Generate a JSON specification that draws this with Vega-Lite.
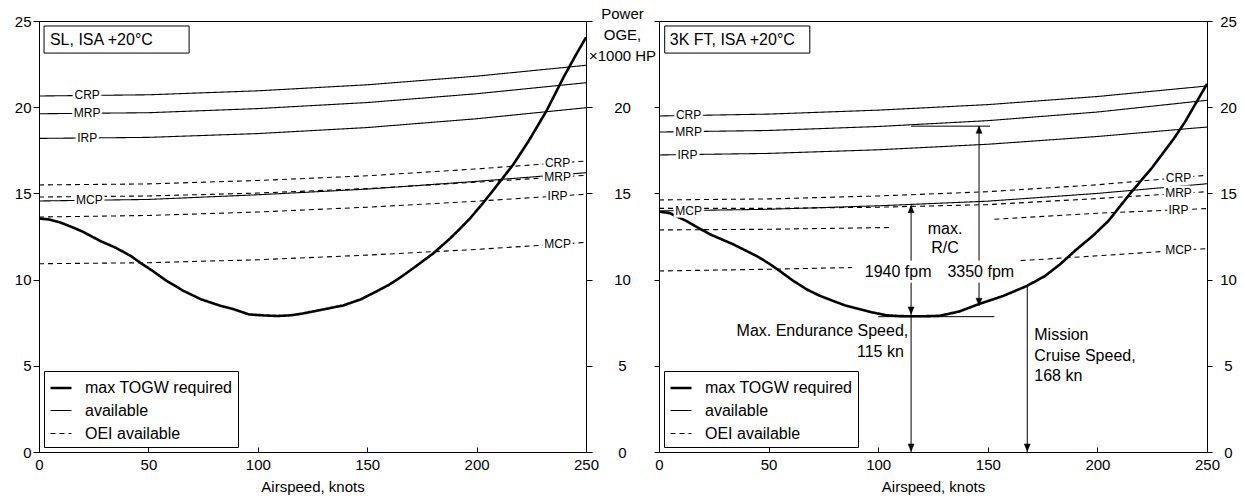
{
  "$schema": "https://vega.github.io/schema/vega-lite/v6.json",
  "padding": {"left": 13, "top": 5, "right": 5, "bottom": 5},
  "bounds": "flush",
  "spacing": 73,
  "config": {
    "font": "Liberation Sans",
    "view": {"stroke": "black", "strokeWidth": 1},
    "axis": {"domainColor": "black", "tickColor": "black", "labelColor": "black", "titleColor": "black", "labelFont": "Liberation Sans", "titleFont": "Liberation Sans", "labelFontSize": 15, "titleFontSize": 15, "titleFontWeight": "normal", "grid": false, "labelFlush": false, "labelOverlap": false},
    "legend": {"orient": "bottom-left", "offset": 5, "strokeColor": "black", "fillColor": "white", "padding": 5, "labelFont": "Liberation Sans", "labelFontSize": 16, "labelColor": "black", "labelOffset": 12, "rowPadding": 3, "symbolType": "stroke", "symbolStrokeColor": "black", "symbolSize": 441, "cornerRadius": 0, "labelLimit": 300},
    "text": {"font": "Liberation Sans", "color": "black"}
  },
  "datasets": {
    "curves": [
      {"panel":"L","name":"L-req","type":"max TOGW required","v":0,"P":13.55},
      {"panel":"L","name":"L-req","type":"max TOGW required","v":5,"P":13.48},
      {"panel":"L","name":"L-req","type":"max TOGW required","v":10,"P":13.3},
      {"panel":"L","name":"L-req","type":"max TOGW required","v":15,"P":13.05},
      {"panel":"L","name":"L-req","type":"max TOGW required","v":20,"P":12.78},
      {"panel":"L","name":"L-req","type":"max TOGW required","v":28,"P":12.24},
      {"panel":"L","name":"L-req","type":"max TOGW required","v":35,"P":11.85},
      {"panel":"L","name":"L-req","type":"max TOGW required","v":42,"P":11.37},
      {"panel":"L","name":"L-req","type":"max TOGW required","v":46,"P":11.0},
      {"panel":"L","name":"L-req","type":"max TOGW required","v":52,"P":10.5},
      {"panel":"L","name":"L-req","type":"max TOGW required","v":58,"P":9.95},
      {"panel":"L","name":"L-req","type":"max TOGW required","v":66,"P":9.35},
      {"panel":"L","name":"L-req","type":"max TOGW required","v":74,"P":8.86},
      {"panel":"L","name":"L-req","type":"max TOGW required","v":82,"P":8.52},
      {"panel":"L","name":"L-req","type":"max TOGW required","v":89,"P":8.28},
      {"panel":"L","name":"L-req","type":"max TOGW required","v":96,"P":7.98},
      {"panel":"L","name":"L-req","type":"max TOGW required","v":103,"P":7.92},
      {"panel":"L","name":"L-req","type":"max TOGW required","v":109,"P":7.89},
      {"panel":"L","name":"L-req","type":"max TOGW required","v":115,"P":7.93},
      {"panel":"L","name":"L-req","type":"max TOGW required","v":120,"P":8.02},
      {"panel":"L","name":"L-req","type":"max TOGW required","v":128,"P":8.22},
      {"panel":"L","name":"L-req","type":"max TOGW required","v":139,"P":8.5},
      {"panel":"L","name":"L-req","type":"max TOGW required","v":147,"P":8.85},
      {"panel":"L","name":"L-req","type":"max TOGW required","v":154,"P":9.3},
      {"panel":"L","name":"L-req","type":"max TOGW required","v":160,"P":9.7},
      {"panel":"L","name":"L-req","type":"max TOGW required","v":165,"P":10.11},
      {"panel":"L","name":"L-req","type":"max TOGW required","v":172,"P":10.75},
      {"panel":"L","name":"L-req","type":"max TOGW required","v":180,"P":11.5},
      {"panel":"L","name":"L-req","type":"max TOGW required","v":188,"P":12.4},
      {"panel":"L","name":"L-req","type":"max TOGW required","v":192,"P":12.9},
      {"panel":"L","name":"L-req","type":"max TOGW required","v":197,"P":13.55},
      {"panel":"L","name":"L-req","type":"max TOGW required","v":203,"P":14.45},
      {"panel":"L","name":"L-req","type":"max TOGW required","v":208,"P":15.25},
      {"panel":"L","name":"L-req","type":"max TOGW required","v":212,"P":15.9},
      {"panel":"L","name":"L-req","type":"max TOGW required","v":216.6,"P":16.65},
      {"panel":"L","name":"L-req","type":"max TOGW required","v":223.6,"P":18.0},
      {"panel":"L","name":"L-req","type":"max TOGW required","v":232,"P":19.8},
      {"panel":"L","name":"L-req","type":"max TOGW required","v":240,"P":21.8},
      {"panel":"L","name":"L-req","type":"max TOGW required","v":245,"P":22.95},
      {"panel":"L","name":"L-req","type":"max TOGW required","v":250,"P":24.05},

      {"panel":"L","name":"L-CRP","type":"available","v":0,"P":20.65},
      {"panel":"L","name":"L-CRP","type":"available","v":50,"P":20.72},
      {"panel":"L","name":"L-CRP","type":"available","v":100,"P":20.95},
      {"panel":"L","name":"L-CRP","type":"available","v":150,"P":21.3},
      {"panel":"L","name":"L-CRP","type":"available","v":200,"P":21.8},
      {"panel":"L","name":"L-CRP","type":"available","v":250,"P":22.43},
      {"panel":"L","name":"L-MRP","type":"available","v":0,"P":19.62},
      {"panel":"L","name":"L-MRP","type":"available","v":50,"P":19.68},
      {"panel":"L","name":"L-MRP","type":"available","v":100,"P":19.92},
      {"panel":"L","name":"L-MRP","type":"available","v":150,"P":20.27},
      {"panel":"L","name":"L-MRP","type":"available","v":200,"P":20.78},
      {"panel":"L","name":"L-MRP","type":"available","v":250,"P":21.42},
      {"panel":"L","name":"L-IRP","type":"available","v":0,"P":18.19},
      {"panel":"L","name":"L-IRP","type":"available","v":50,"P":18.25},
      {"panel":"L","name":"L-IRP","type":"available","v":100,"P":18.47},
      {"panel":"L","name":"L-IRP","type":"available","v":150,"P":18.82},
      {"panel":"L","name":"L-IRP","type":"available","v":200,"P":19.33},
      {"panel":"L","name":"L-IRP","type":"available","v":250,"P":19.97},
      {"panel":"L","name":"L-MCP","type":"available","v":0,"P":14.56},
      {"panel":"L","name":"L-MCP","type":"available","v":50,"P":14.65},
      {"panel":"L","name":"L-MCP","type":"available","v":100,"P":14.92},
      {"panel":"L","name":"L-MCP","type":"available","v":150,"P":15.25},
      {"panel":"L","name":"L-MCP","type":"available","v":200,"P":15.7},
      {"panel":"L","name":"L-MCP","type":"available","v":250,"P":16.2},

      {"panel":"L","name":"L-CRPo","type":"OEI available","v":0,"P":15.49},
      {"panel":"L","name":"L-CRPo","type":"OEI available","v":50,"P":15.55},
      {"panel":"L","name":"L-CRPo","type":"OEI available","v":100,"P":15.75},
      {"panel":"L","name":"L-CRPo","type":"OEI available","v":150,"P":16.02},
      {"panel":"L","name":"L-CRPo","type":"OEI available","v":200,"P":16.42},
      {"panel":"L","name":"L-CRPo","type":"OEI available","v":250,"P":16.88},
      {"panel":"L","name":"L-MRPo","type":"OEI available","v":0,"P":14.79},
      {"panel":"L","name":"L-MRPo","type":"OEI available","v":50,"P":14.85},
      {"panel":"L","name":"L-MRPo","type":"OEI available","v":100,"P":15.02},
      {"panel":"L","name":"L-MRPo","type":"OEI available","v":150,"P":15.28},
      {"panel":"L","name":"L-MRPo","type":"OEI available","v":200,"P":15.65},
      {"panel":"L","name":"L-MRPo","type":"OEI available","v":250,"P":16.05},
      {"panel":"L","name":"L-IRPo","type":"OEI available","v":0,"P":13.63},
      {"panel":"L","name":"L-IRPo","type":"OEI available","v":50,"P":13.72},
      {"panel":"L","name":"L-IRPo","type":"OEI available","v":100,"P":13.92},
      {"panel":"L","name":"L-IRPo","type":"OEI available","v":150,"P":14.2},
      {"panel":"L","name":"L-IRPo","type":"OEI available","v":200,"P":14.55},
      {"panel":"L","name":"L-IRPo","type":"OEI available","v":250,"P":14.95},
      {"panel":"L","name":"L-MCPo","type":"OEI available","v":0,"P":10.92},
      {"panel":"L","name":"L-MCPo","type":"OEI available","v":50,"P":10.98},
      {"panel":"L","name":"L-MCPo","type":"OEI available","v":100,"P":11.15},
      {"panel":"L","name":"L-MCPo","type":"OEI available","v":150,"P":11.42},
      {"panel":"L","name":"L-MCPo","type":"OEI available","v":200,"P":11.75},
      {"panel":"L","name":"L-MCPo","type":"OEI available","v":250,"P":12.16},

      {"panel":"R","name":"R-req","type":"max TOGW required","v":0,"P":13.95},
      {"panel":"R","name":"R-req","type":"max TOGW required","v":5,"P":13.85},
      {"panel":"R","name":"R-req","type":"max TOGW required","v":12.5,"P":13.4},
      {"panel":"R","name":"R-req","type":"max TOGW required","v":18,"P":13.0},
      {"panel":"R","name":"R-req","type":"max TOGW required","v":23.2,"P":12.63},
      {"panel":"R","name":"R-req","type":"max TOGW required","v":33.8,"P":12.05},
      {"panel":"R","name":"R-req","type":"max TOGW required","v":44.5,"P":11.37},
      {"panel":"R","name":"R-req","type":"max TOGW required","v":50,"P":10.95},
      {"panel":"R","name":"R-req","type":"max TOGW required","v":55.1,"P":10.5},
      {"panel":"R","name":"R-req","type":"max TOGW required","v":61,"P":9.95},
      {"panel":"R","name":"R-req","type":"max TOGW required","v":67.3,"P":9.44},
      {"panel":"R","name":"R-req","type":"max TOGW required","v":73,"P":9.08},
      {"panel":"R","name":"R-req","type":"max TOGW required","v":79.5,"P":8.76},
      {"panel":"R","name":"R-req","type":"max TOGW required","v":85,"P":8.5},
      {"panel":"R","name":"R-req","type":"max TOGW required","v":91.6,"P":8.28},
      {"panel":"R","name":"R-req","type":"max TOGW required","v":98,"P":8.08},
      {"panel":"R","name":"R-req","type":"max TOGW required","v":103.8,"P":7.93},
      {"panel":"R","name":"R-req","type":"max TOGW required","v":110,"P":7.88},
      {"panel":"R","name":"R-req","type":"max TOGW required","v":120,"P":7.87},
      {"panel":"R","name":"R-req","type":"max TOGW required","v":128,"P":7.9},
      {"panel":"R","name":"R-req","type":"max TOGW required","v":137,"P":8.15},
      {"panel":"R","name":"R-req","type":"max TOGW required","v":145.7,"P":8.57},
      {"panel":"R","name":"R-req","type":"max TOGW required","v":157,"P":9.05},
      {"panel":"R","name":"R-req","type":"max TOGW required","v":167.8,"P":9.63},
      {"panel":"R","name":"R-req","type":"max TOGW required","v":176,"P":10.2},
      {"panel":"R","name":"R-req","type":"max TOGW required","v":183,"P":10.89},
      {"panel":"R","name":"R-req","type":"max TOGW required","v":190,"P":11.7},
      {"panel":"R","name":"R-req","type":"max TOGW required","v":198,"P":12.55},
      {"panel":"R","name":"R-req","type":"max TOGW required","v":205,"P":13.4},
      {"panel":"R","name":"R-req","type":"max TOGW required","v":210,"P":14.2},
      {"panel":"R","name":"R-req","type":"max TOGW required","v":215,"P":15.0},
      {"panel":"R","name":"R-req","type":"max TOGW required","v":220,"P":15.75},
      {"panel":"R","name":"R-req","type":"max TOGW required","v":225,"P":16.5},
      {"panel":"R","name":"R-req","type":"max TOGW required","v":230,"P":17.35},
      {"panel":"R","name":"R-req","type":"max TOGW required","v":235,"P":18.2},
      {"panel":"R","name":"R-req","type":"max TOGW required","v":240,"P":19.15},
      {"panel":"R","name":"R-req","type":"max TOGW required","v":245,"P":20.25},
      {"panel":"R","name":"R-req","type":"max TOGW required","v":250,"P":21.35},

      {"panel":"R","name":"R-CRP","type":"available","v":0,"P":19.49},
      {"panel":"R","name":"R-CRP","type":"available","v":50,"P":19.6},
      {"panel":"R","name":"R-CRP","type":"available","v":100,"P":19.83},
      {"panel":"R","name":"R-CRP","type":"available","v":150,"P":20.15},
      {"panel":"R","name":"R-CRP","type":"available","v":200,"P":20.62},
      {"panel":"R","name":"R-CRP","type":"available","v":250,"P":21.23},
      {"panel":"R","name":"R-MRP","type":"available","v":0,"P":18.56},
      {"panel":"R","name":"R-MRP","type":"available","v":50,"P":18.65},
      {"panel":"R","name":"R-MRP","type":"available","v":100,"P":18.88},
      {"panel":"R","name":"R-MRP","type":"available","v":150,"P":19.22},
      {"panel":"R","name":"R-MRP","type":"available","v":200,"P":19.72},
      {"panel":"R","name":"R-MRP","type":"available","v":250,"P":20.4},
      {"panel":"R","name":"R-IRP","type":"available","v":0,"P":17.23},
      {"panel":"R","name":"R-IRP","type":"available","v":50,"P":17.32},
      {"panel":"R","name":"R-IRP","type":"available","v":100,"P":17.53},
      {"panel":"R","name":"R-IRP","type":"available","v":150,"P":17.85},
      {"panel":"R","name":"R-IRP","type":"available","v":200,"P":18.3},
      {"panel":"R","name":"R-IRP","type":"available","v":250,"P":18.85},
      {"panel":"R","name":"R-MCP","type":"available","v":0,"P":13.98},
      {"panel":"R","name":"R-MCP","type":"available","v":50,"P":14.08},
      {"panel":"R","name":"R-MCP","type":"available","v":100,"P":14.28},
      {"panel":"R","name":"R-MCP","type":"available","v":150,"P":14.55},
      {"panel":"R","name":"R-MCP","type":"available","v":200,"P":15.0},
      {"panel":"R","name":"R-MCP","type":"available","v":250,"P":15.56},

      {"panel":"R","name":"R-CRPo","type":"OEI available","v":0,"P":14.62},
      {"panel":"R","name":"R-CRPo","type":"OEI available","v":50,"P":14.68},
      {"panel":"R","name":"R-CRPo","type":"OEI available","v":100,"P":14.85},
      {"panel":"R","name":"R-CRPo","type":"OEI available","v":150,"P":15.1},
      {"panel":"R","name":"R-CRPo","type":"OEI available","v":200,"P":15.5},
      {"panel":"R","name":"R-CRPo","type":"OEI available","v":250,"P":16.05},
      {"panel":"R","name":"R-MRPo","type":"OEI available","v":0,"P":14.13},
      {"panel":"R","name":"R-MRPo","type":"OEI available","v":50,"P":14.13},
      {"panel":"R","name":"R-MRPo","type":"OEI available","v":100,"P":14.2},
      {"panel":"R","name":"R-MRPo","type":"OEI available","v":150,"P":14.35},
      {"panel":"R","name":"R-MRPo","type":"OEI available","v":200,"P":14.7},
      {"panel":"R","name":"R-MRPo","type":"OEI available","v":250,"P":15.1},
      {"panel":"R","name":"R-IRPo-a","type":"OEI available","v":0,"P":12.88},
      {"panel":"R","name":"R-IRPo-a","type":"OEI available","v":50,"P":12.92},
      {"panel":"R","name":"R-IRPo-a","type":"OEI available","v":105,"P":13.02},
      {"panel":"R","name":"R-IRPo-b","type":"OEI available","v":153,"P":13.5},
      {"panel":"R","name":"R-IRPo-b","type":"OEI available","v":200,"P":13.85},
      {"panel":"R","name":"R-IRPo-b","type":"OEI available","v":250,"P":14.12},
      {"panel":"R","name":"R-MCPo-a","type":"OEI available","v":0,"P":10.5},
      {"panel":"R","name":"R-MCPo-a","type":"OEI available","v":50,"P":10.6},
      {"panel":"R","name":"R-MCPo-a","type":"OEI available","v":88,"P":10.7},
      {"panel":"R","name":"R-MCPo-b","type":"OEI available","v":165,"P":11.1},
      {"panel":"R","name":"R-MCPo-b","type":"OEI available","v":200,"P":11.38},
      {"panel":"R","name":"R-MCPo-b","type":"OEI available","v":250,"P":11.8}
    ],
    "labels": [
      {"panel":"L","label":"CRP","v":22,"P":20.68},
      {"panel":"L","label":"MRP","v":22,"P":19.65},
      {"panel":"L","label":"IRP","v":22,"P":18.22},
      {"panel":"L","label":"MCP","v":23,"P":14.6},
      {"panel":"L","label":"CRP","v":237,"P":16.76},
      {"panel":"L","label":"MRP","v":237,"P":15.98},
      {"panel":"L","label":"IRP","v":237,"P":14.85},
      {"panel":"L","label":"MCP","v":237,"P":12.05},
      {"panel":"R","label":"CRP","v":13.5,"P":19.52},
      {"panel":"R","label":"MRP","v":13.5,"P":18.58},
      {"panel":"R","label":"IRP","v":13,"P":17.25},
      {"panel":"R","label":"MCP","v":13.5,"P":14.0},
      {"panel":"R","label":"CRP","v":237,"P":15.91},
      {"panel":"R","label":"MRP","v":237,"P":15.0},
      {"panel":"R","label":"IRP","v":237,"P":14.05},
      {"panel":"R","label":"MCP","v":237,"P":11.69}
    ],
    "titles": [
      {"panel":"L","title":"SL, ISA +20°C"},
      {"panel":"R","title":"3K FT, ISA +20°C"}
    ],
    "vrules": [
      {"v":115,"P":14.3,"P2":11.1},
      {"v":115,"P":9.82,"P2":0},
      {"v":146,"P":18.9,"P2":11.1},
      {"v":146,"P":9.82,"P2":8.5},
      {"v":168,"P":9.63,"P2":0}
    ],
    "hrules": [
      {"v":100,"v2":153,"P":7.85},
      {"v":115,"v2":151,"P":18.9}
    ],
    "heads": [
      {"v":115,"P":14.3,"dir":"up"},
      {"v":146,"P":18.9,"dir":"up"},
      {"v":115,"P":8.0,"dir":"down"},
      {"v":115,"P":0.05,"dir":"down"},
      {"v":146,"P":8.5,"dir":"down"},
      {"v":168,"P":0.05,"dir":"down"}
    ],
    "notes": [
      {"pos":"center","v":130.5,"P":12.92,"text":"max."},
      {"pos":"center","v":130.5,"P":11.85,"text":"R/C"},
      {"pos":"center","v":109.1,"P":10.46,"text":"1940 fpm"},
      {"pos":"center","v":146.8,"P":10.46,"text":"3350 fpm"},
      {"pos":"right","v":113.7,"P":7.02,"text":"Max. Endurance Speed,"},
      {"pos":"right","v":111.7,"P":5.8,"text":"115 kn"},
      {"pos":"left","v":171.2,"P":6.79,"text":"Mission"},
      {"pos":"left","v":171.2,"P":5.57,"text":"Cruise Speed,"},
      {"pos":"left","v":171.2,"P":4.41,"text":"168 kn"}
    ]
  },
  "resolve": {"scale": {"strokeDash": "independent", "strokeWidth": "independent"}},
  "hconcat": [
    {
      "width": 547,
      "height": 431,
      "resolve": {"axis": {"y": "independent"}},
      "layer": [
        {
          "data": {"name": "curves"},
          "transform": [{"filter": "datum.panel == 'L'"}],
          "mark": {"type": "line", "color": "black", "strokeCap": "butt"},
          "encoding": {
            "x": {"field": "v", "type": "quantitative", "scale": {"domain": [0, 250], "nice": false}, "axis": {"title": "Airspeed, knots", "values": [0, 50, 100, 150, 200, 250], "tickSize": -5, "labelPadding": 10, "titlePadding": 7}},
            "y": {"field": "P", "type": "quantitative", "scale": {"domain": [0, 25], "nice": false, "zero": false}, "axis": {"orient": "left", "title": null, "values": [0, 5, 10, 15, 20, 25], "tickSize": 6, "labelPadding": 2}},
            "detail": {"field": "name"},
            "strokeDash": {"field": "type", "type": "nominal", "scale": {"type": "ordinal", "domain": ["max TOGW required", "available", "OEI available"], "range": [[1, 0], [1, 0], [5, 4]]}, "legend": {"title": null}},
            "strokeWidth": {"field": "type", "type": "nominal", "scale": {"type": "ordinal", "domain": ["max TOGW required", "available", "OEI available"], "range": [2.6, 1.1, 1.1]}, "legend": {"title": null}}
          }
        },
        {
          "data": {"name": "labels"},
          "transform": [{"filter": "datum.panel == 'L'"}],
          "mark": {"type": "text", "fontSize": 12, "color": "white", "stroke": "white", "strokeWidth": 5, "align": "center", "baseline": "middle"},
          "encoding": {
            "x": {"field": "v", "type": "quantitative"},
            "y": {"field": "P", "type": "quantitative", "axis": {"orient": "right", "title": null, "labels": false, "values": [0, 5, 10, 15, 20, 25], "tickSize": 6}},
            "text": {"field": "label"}
          }
        },
        {
          "data": {"name": "labels"},
          "transform": [{"filter": "datum.panel == 'L'"}],
          "mark": {"type": "text", "fontSize": 12, "color": "black", "align": "center", "baseline": "middle"},
          "encoding": {
            "x": {"field": "v", "type": "quantitative"},
            "y": {"field": "P", "type": "quantitative", "axis": null},
            "text": {"field": "label"}
          }
        },
        {
          "data": {"name": "titles"},
          "transform": [{"filter": "datum.panel == 'L'"}],
          "mark": {"type": "rect", "fill": "white", "stroke": "black", "strokeWidth": 1},
          "encoding": {
            "x": {"datum": 2.3},
            "x2": {"datum": 68.6},
            "y": {"datum": 23.14, "axis": null},
            "y2": {"datum": 24.71}
          }
        },
        {
          "data": {"name": "titles"},
          "transform": [{"filter": "datum.panel == 'L'"}],
          "mark": {"type": "text", "fontSize": 16, "align": "left", "baseline": "middle"},
          "encoding": {
            "x": {"datum": 5},
            "y": {"datum": 23.9, "axis": null},
            "text": {"field": "title"}
          }
        }
      ]
    },
    {
      "width": 548,
      "height": 431,
      "resolve": {"axis": {"y": "independent"}},
      "layer": [
        {
          "data": {"name": "curves"},
          "transform": [{"filter": "datum.panel == 'R'"}],
          "mark": {"type": "line", "color": "black", "strokeCap": "butt"},
          "encoding": {
            "x": {"field": "v", "type": "quantitative", "scale": {"domain": [0, 250], "nice": false}, "axis": {"title": "Airspeed, knots", "values": [0, 50, 100, 150, 200, 250], "tickSize": -5, "labelPadding": 10, "titlePadding": 7}},
            "y": {"field": "P", "type": "quantitative", "scale": {"domain": [0, 25], "nice": false, "zero": false}, "axis": {"orient": "left", "values": [0, 5, 10, 15, 20, 25], "labelExpr": "datum.value == 25 ? '' : datum.label", "labelAlign": "center", "tickSize": 5, "labelPadding": 32, "title": ["Power", "OGE,", "×1000 HP"], "titleAngle": 0, "titleAlign": "center", "titleBaseline": "top", "titleX": -37, "titleY": -15, "titleLineHeight": 21}},
            "detail": {"field": "name"},
            "strokeDash": {"field": "type", "type": "nominal", "scale": {"type": "ordinal", "domain": ["max TOGW required", "available", "OEI available"], "range": [[1, 0], [1, 0], [5, 4]]}, "legend": {"title": null}},
            "strokeWidth": {"field": "type", "type": "nominal", "scale": {"type": "ordinal", "domain": ["max TOGW required", "available", "OEI available"], "range": [2.6, 1.1, 1.1]}, "legend": {"title": null}}
          }
        },
        {
          "data": {"name": "labels"},
          "transform": [{"filter": "datum.panel == 'R'"}],
          "mark": {"type": "text", "fontSize": 12, "color": "white", "stroke": "white", "strokeWidth": 5, "align": "center", "baseline": "middle"},
          "encoding": {
            "x": {"field": "v", "type": "quantitative"},
            "y": {"field": "P", "type": "quantitative", "axis": {"orient": "right", "title": null, "values": [0, 5, 10, 15, 20, 25], "labelAlign": "center", "tickSize": 5, "labelPadding": 16}},
            "text": {"field": "label"}
          }
        },
        {
          "data": {"name": "labels"},
          "transform": [{"filter": "datum.panel == 'R'"}],
          "mark": {"type": "text", "fontSize": 12, "color": "black", "align": "center", "baseline": "middle"},
          "encoding": {
            "x": {"field": "v", "type": "quantitative"},
            "y": {"field": "P", "type": "quantitative", "axis": null},
            "text": {"field": "label"}
          }
        },
        {
          "data": {"name": "vrules"},
          "mark": {"type": "rule", "color": "black", "strokeWidth": 1},
          "encoding": {
            "x": {"field": "v", "type": "quantitative"},
            "y": {"field": "P", "type": "quantitative", "axis": null},
            "y2": {"field": "P2"}
          }
        },
        {
          "data": {"name": "hrules"},
          "mark": {"type": "rule", "color": "black", "strokeWidth": 1},
          "encoding": {
            "x": {"field": "v", "type": "quantitative"},
            "x2": {"field": "v2"},
            "y": {"field": "P", "type": "quantitative", "axis": null}
          }
        },
        {
          "data": {"name": "heads"},
          "transform": [{"filter": "datum.dir == 'up'"}],
          "mark": {"type": "point", "shape": "M0,0L-1,2.4L1,2.4Z", "size": 36, "filled": true, "color": "black", "opacity": 1, "stroke": "black", "strokeWidth": 0.5},
          "encoding": {
            "x": {"field": "v", "type": "quantitative"},
            "y": {"field": "P", "type": "quantitative", "axis": null}
          }
        },
        {
          "data": {"name": "heads"},
          "transform": [{"filter": "datum.dir == 'down'"}],
          "mark": {"type": "point", "shape": "M0,0L-1,-2.4L1,-2.4Z", "size": 36, "filled": true, "color": "black", "opacity": 1, "stroke": "black", "strokeWidth": 0.5},
          "encoding": {
            "x": {"field": "v", "type": "quantitative"},
            "y": {"field": "P", "type": "quantitative", "axis": null}
          }
        },
        {
          "data": {"name": "notes"},
          "transform": [{"filter": "datum.pos == 'center'"}],
          "mark": {"type": "text", "fontSize": 16, "align": "center", "baseline": "middle"},
          "encoding": {
            "x": {"field": "v", "type": "quantitative"},
            "y": {"field": "P", "type": "quantitative", "axis": null},
            "text": {"field": "text"}
          }
        },
        {
          "data": {"name": "notes"},
          "transform": [{"filter": "datum.pos == 'right'"}],
          "mark": {"type": "text", "fontSize": 16, "align": "right", "baseline": "middle"},
          "encoding": {
            "x": {"field": "v", "type": "quantitative"},
            "y": {"field": "P", "type": "quantitative", "axis": null},
            "text": {"field": "text"}
          }
        },
        {
          "data": {"name": "notes"},
          "transform": [{"filter": "datum.pos == 'left'"}],
          "mark": {"type": "text", "fontSize": 16, "align": "left", "baseline": "middle"},
          "encoding": {
            "x": {"field": "v", "type": "quantitative"},
            "y": {"field": "P", "type": "quantitative", "axis": null},
            "text": {"field": "text"}
          }
        },
        {
          "data": {"name": "titles"},
          "transform": [{"filter": "datum.panel == 'R'"}],
          "mark": {"type": "rect", "fill": "white", "stroke": "black", "strokeWidth": 1},
          "encoding": {
            "x": {"datum": 2.6},
            "x2": {"datum": 68.8},
            "y": {"datum": 23.14, "axis": null},
            "y2": {"datum": 24.71}
          }
        },
        {
          "data": {"name": "titles"},
          "transform": [{"filter": "datum.panel == 'R'"}],
          "mark": {"type": "text", "fontSize": 16, "align": "left", "baseline": "middle"},
          "encoding": {
            "x": {"datum": 4.9},
            "y": {"datum": 23.9, "axis": null},
            "text": {"field": "title"}
          }
        }
      ]
    }
  ]
}
